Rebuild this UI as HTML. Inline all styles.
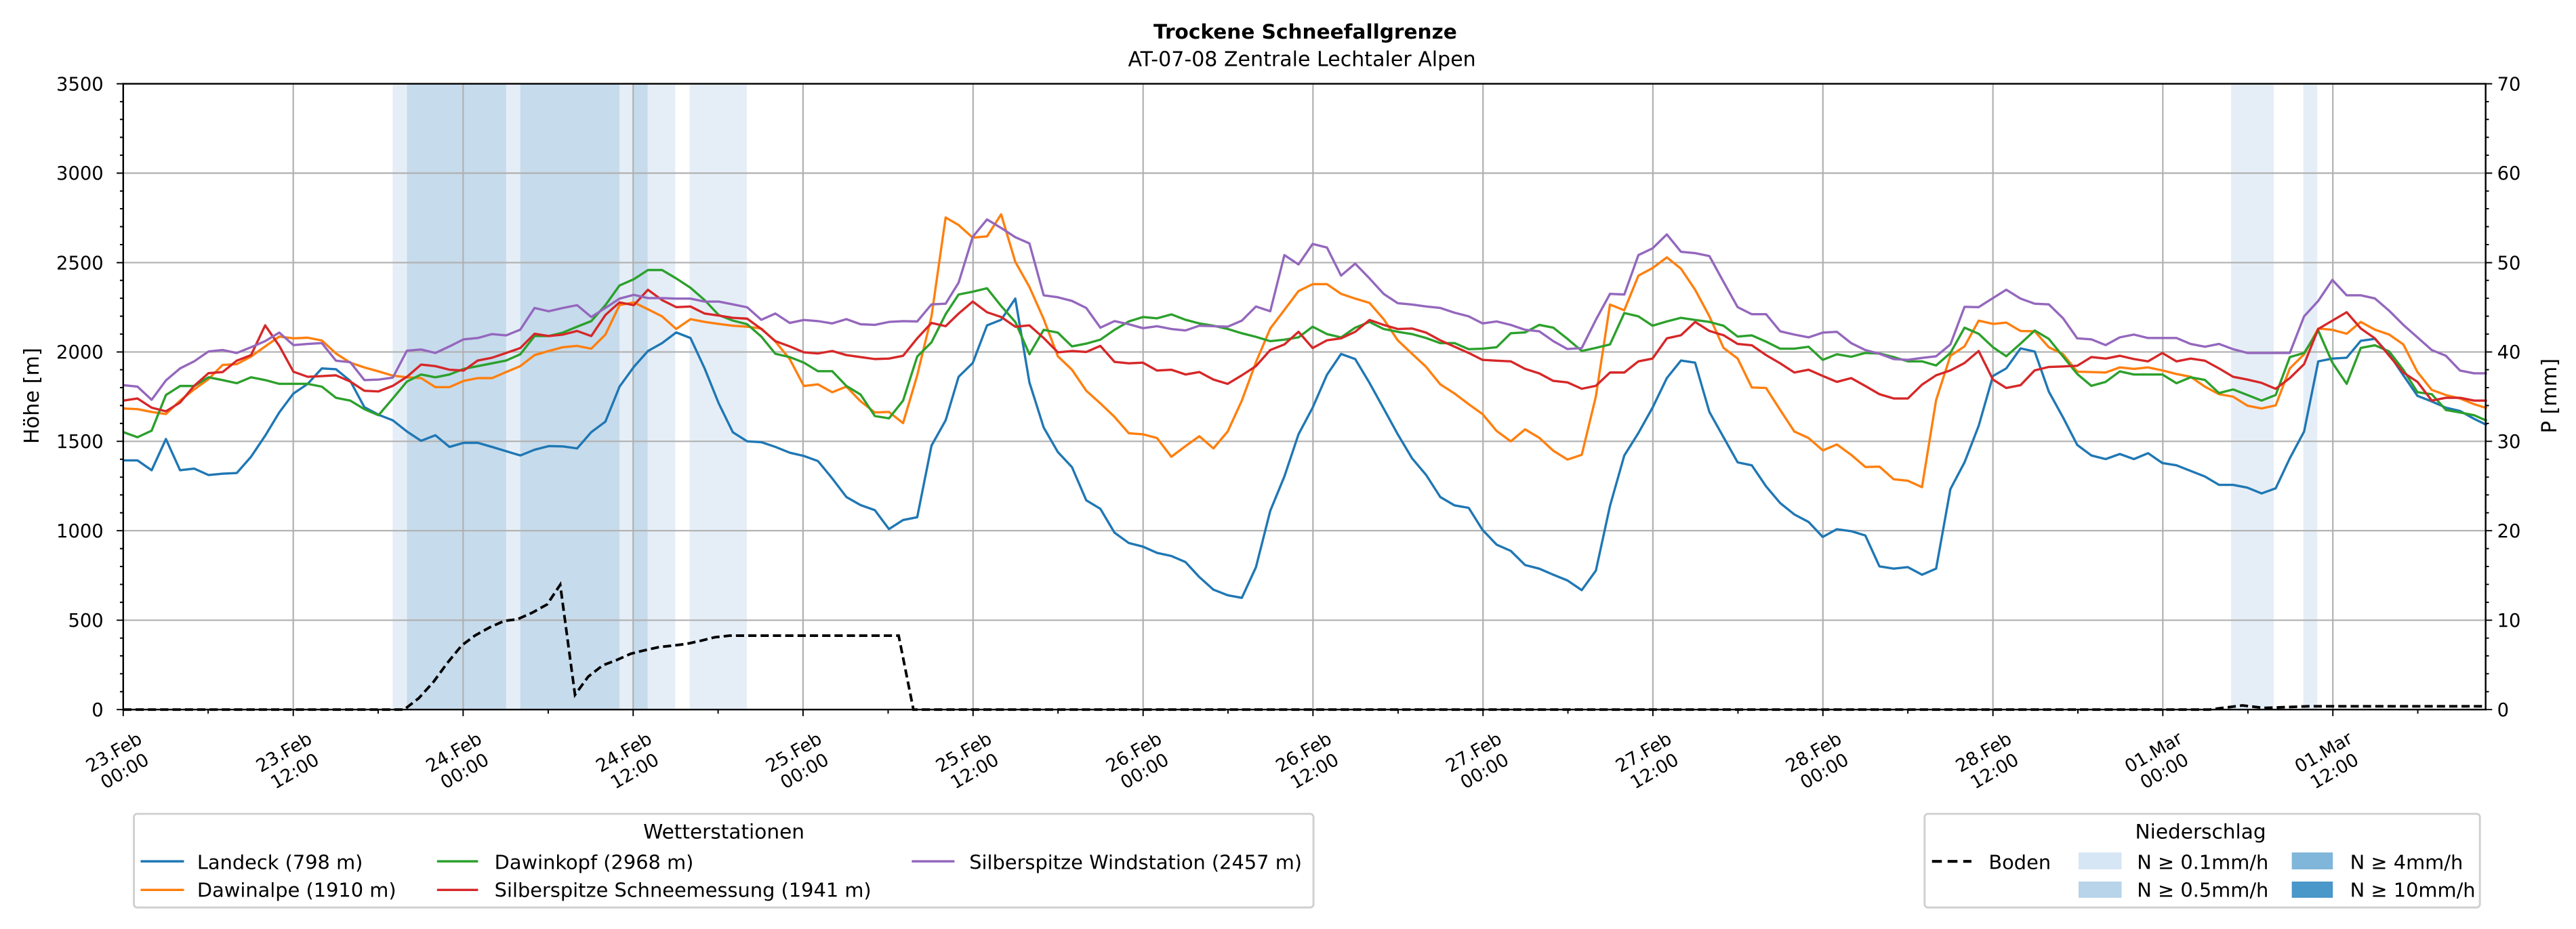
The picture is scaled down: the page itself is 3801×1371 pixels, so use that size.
<!DOCTYPE html>
<html><head><meta charset="utf-8"><style>html,body{margin:0;padding:0;background:#fff}svg{display:block}</style></head>
<body>
<svg id="s" width="3801" height="1371" viewBox="0 0 1568 565.6" preserveAspectRatio="none" xmlns="http://www.w3.org/2000/svg" font-family="DejaVu Sans, Liberation Sans, sans-serif">
<rect width="1568" height="566" fill="#fff"/>
<text x="794.5" y="23.6" font-size="12.2" font-weight="bold" text-anchor="middle">Trockene Schneefallgrenze</text>
<text x="792.5" y="40.3" font-size="12.4" text-anchor="middle">AT-07-08 Zentrale Lechtaler Alpen</text>
<g>
<rect x="239" y="51" width="172" height="381" fill="#e5eef7"/>
<rect x="247.7" y="51" width="60.4" height="381" fill="#c6dbec"/>
<rect x="316.7" y="51" width="60.4" height="381" fill="#c6dbec"/>
<rect x="385.8" y="51" width="8.4" height="381" fill="#c6dbec"/>
<rect x="419.8" y="51" width="34.8" height="381" fill="#e5eef7"/>
<rect x="1358" y="51" width="26" height="381" fill="#e5eef7"/>
<rect x="1402" y="51" width="8.5" height="381" fill="#e5eef7"/>
</g>
<g stroke="#b0b0b0" stroke-width="0.9">
<line x1="75" x2="1513" y1="377.6" y2="377.6"/><line x1="75" x2="1513" y1="323.1" y2="323.1"/><line x1="75" x2="1513" y1="268.7" y2="268.7"/><line x1="75" x2="1513" y1="214.3" y2="214.3"/><line x1="75" x2="1513" y1="159.9" y2="159.9"/><line x1="75" x2="1513" y1="105.4" y2="105.4"/>
<line x1="178.5" x2="178.5" y1="51" y2="432"/><line x1="281.9" x2="281.9" y1="51" y2="432"/><line x1="385.4" x2="385.4" y1="51" y2="432"/><line x1="488.8" x2="488.8" y1="51" y2="432"/><line x1="592.3" x2="592.3" y1="51" y2="432"/><line x1="695.8" x2="695.8" y1="51" y2="432"/><line x1="799.2" x2="799.2" y1="51" y2="432"/><line x1="902.7" x2="902.7" y1="51" y2="432"/><line x1="1006.1" x2="1006.1" y1="51" y2="432"/><line x1="1109.6" x2="1109.6" y1="51" y2="432"/><line x1="1213.1" x2="1213.1" y1="51" y2="432"/><line x1="1316.5" x2="1316.5" y1="51" y2="432"/><line x1="1420" x2="1420" y1="51" y2="432"/>
</g>
<g id="series" fill="none" stroke-width="1.4" stroke-linejoin="round"></g>
<polyline fill="none" stroke="#000" stroke-width="1.6" stroke-dasharray="5,2.5" points="75,432 246,432 255,425 264,415 272,404 281,393 289,387 298,382 307,378 315,377 324,373 333,368 341,356 350,423 358,412 367,405 375,402 384,398 392,396 401,394 410,393 418,392 427,390 435,388 444,387 453,387 547,387 556,432 1345,432 1353,431 1365,429.5 1378,431 1392,430.5 1405,430 1513,430"/>
<rect x="75" y="51" width="1438" height="381" fill="none" stroke="#000" stroke-width="1"/>
<g stroke="#000" stroke-width="0.8">
<path d="M75,432v4M178.5,432v4M281.9,432v4M385.4,432v4M488.8,432v4M592.3,432v4M695.8,432v4M799.2,432v4M902.7,432v4M1006.1,432v4M1109.6,432v4M1213.1,432v4M1316.5,432v4M1420,432v4"/>
<path d="M126.7,432v2.5M230.2,432v2.5M333.7,432v2.5M437.1,432v2.5M540.6,432v2.5M644,432v2.5M747.5,432v2.5M851,432v2.5M954.4,432v2.5M1057.9,432v2.5M1161.3,432v2.5M1264.8,432v2.5M1368.3,432v2.5M1471.7,432v2.5"/>
<path d="M75,432h-4M75,377.6h-4M75,323.1h-4M75,268.7h-4M75,214.3h-4M75,159.9h-4M75,105.4h-4M75,51h-4M1513,432h4M1513,377.6h4M1513,323.1h4M1513,268.7h4M1513,214.3h4M1513,159.9h4M1513,105.4h4M1513,51h4"/>
<path d="M75,421.1h-2M75,410.2h-2M75,399.3h-2M75,388.5h-2M75,366.7h-2M75,355.8h-2M75,344.9h-2M75,334h-2M75,312.2h-2M75,301.3h-2M75,290.5h-2M75,279.6h-2M75,257.8h-2M75,246.9h-2M75,236h-2M75,225.1h-2M75,203.4h-2M75,192.5h-2M75,181.6h-2M75,170.7h-2M75,148.9h-2M75,138h-2M75,127.1h-2M75,116.3h-2M75,94.5h-2M75,83.6h-2M75,72.7h-2M75,61.9h-2M1513,421.1h2M1513,410.2h2M1513,399.3h2M1513,388.5h2M1513,366.7h2M1513,355.8h2M1513,344.9h2M1513,334h2M1513,312.2h2M1513,301.3h2M1513,290.5h2M1513,279.6h2M1513,257.8h2M1513,246.9h2M1513,236h2M1513,225.1h2M1513,203.4h2M1513,192.5h2M1513,181.6h2M1513,170.7h2M1513,148.9h2M1513,138h2M1513,127.1h2M1513,116.3h2M1513,94.5h2M1513,83.6h2M1513,72.7h2M1513,61.9h2"/>
</g>
<g font-size="11.3" text-anchor="end">
<text x="63" y="436">0</text><text x="63" y="381.6">500</text><text x="63" y="327.1">1000</text><text x="63" y="272.7">1500</text><text x="63" y="218.3">2000</text><text x="63" y="163.9">2500</text><text x="63" y="109.4">3000</text><text x="63" y="55">3500</text>
</g>
<g font-size="11.3" text-anchor="start">
<text x="1520" y="436">0</text><text x="1520" y="381.6">10</text><text x="1520" y="327.1">20</text><text x="1520" y="272.7">30</text><text x="1520" y="218.3">40</text><text x="1520" y="163.9">50</text><text x="1520" y="109.4">60</text><text x="1520" y="55">70</text>
</g>
<text transform="translate(23.5,241) rotate(-90)" font-size="12.5" text-anchor="middle">Höhe [m]</text>
<text transform="translate(1556,241) rotate(-90)" font-size="12.5" text-anchor="middle">P [mm]</text>
<g font-size="11" text-anchor="middle">
<g transform="translate(72.5,463.5) rotate(-30)"><text y="-2.6">23.Feb</text><text y="10.6">00:00</text></g>
<g transform="translate(176,463.5) rotate(-30)"><text y="-2.6">23.Feb</text><text y="10.6">12:00</text></g>
<g transform="translate(279.4,463.5) rotate(-30)"><text y="-2.6">24.Feb</text><text y="10.6">00:00</text></g>
<g transform="translate(382.9,463.5) rotate(-30)"><text y="-2.6">24.Feb</text><text y="10.6">12:00</text></g>
<g transform="translate(486.3,463.5) rotate(-30)"><text y="-2.6">25.Feb</text><text y="10.6">00:00</text></g>
<g transform="translate(589.8,463.5) rotate(-30)"><text y="-2.6">25.Feb</text><text y="10.6">12:00</text></g>
<g transform="translate(693.3,463.5) rotate(-30)"><text y="-2.6">26.Feb</text><text y="10.6">00:00</text></g>
<g transform="translate(796.7,463.5) rotate(-30)"><text y="-2.6">26.Feb</text><text y="10.6">12:00</text></g>
<g transform="translate(900.2,463.5) rotate(-30)"><text y="-2.6">27.Feb</text><text y="10.6">00:00</text></g>
<g transform="translate(1003.6,463.5) rotate(-30)"><text y="-2.6">27.Feb</text><text y="10.6">12:00</text></g>
<g transform="translate(1107.1,463.5) rotate(-30)"><text y="-2.6">28.Feb</text><text y="10.6">00:00</text></g>
<g transform="translate(1210.6,463.5) rotate(-30)"><text y="-2.6">28.Feb</text><text y="10.6">12:00</text></g>
<g transform="translate(1314,463.5) rotate(-30)"><text y="-2.6">01.Mar</text><text y="10.6">00:00</text></g>
<g transform="translate(1417.5,463.5) rotate(-30)"><text y="-2.6">01.Mar</text><text y="10.6">12:00</text></g>
</g>
<rect x="81.5" y="495.5" width="718" height="57" rx="2" fill="#fff" stroke="#d0d0d0" stroke-width="1.2"/>
<text x="440.6" y="510.6" font-size="12.2" text-anchor="middle">Wetterstationen</text>
<g font-size="11.9">
<line x1="85.6" x2="112" y1="524.4" y2="524.4" stroke="#1f77b4" stroke-width="1.4"/><text x="120" y="529">Landeck (798 m)</text>
<line x1="85.6" x2="112" y1="541.8" y2="541.8" stroke="#ff7f0e" stroke-width="1.4"/><text x="120" y="546">Dawinalpe (1910 m)</text>
<line x1="266" x2="291" y1="524.4" y2="524.4" stroke="#2ca02c" stroke-width="1.4"/><text x="301" y="529">Dawinkopf (2968 m)</text>
<line x1="266" x2="291" y1="541.8" y2="541.8" stroke="#d62728" stroke-width="1.4"/><text x="301" y="546">Silberspitze Schneemessung (1941 m)</text>
<line x1="555" x2="581" y1="524.4" y2="524.4" stroke="#9467bd" stroke-width="1.4"/><text x="590" y="529">Silberspitze Windstation (2457 m)</text>
</g>
<rect x="1171.5" y="495.5" width="338" height="57" rx="2" fill="#fff" stroke="#d0d0d0" stroke-width="1.2"/>
<text x="1339.5" y="510.6" font-size="12.2" text-anchor="middle">Niederschlag</text>
<g font-size="11.9">
<line x1="1176" x2="1200" y1="524.4" y2="524.4" stroke="#000" stroke-width="1.7" stroke-dasharray="6,3.5"/><text x="1210.5" y="529">Boden</text>
<rect x="1265.2" y="519" width="26.2" height="10.3" fill="#d6e6f4"/><text x="1300.8" y="529">N ≥ 0.1mm/h</text>
<rect x="1265.2" y="536.7" width="26.2" height="9.9" fill="#b7d4ea"/><text x="1300.8" y="546">N ≥ 0.5mm/h</text>
<rect x="1395" y="519" width="25" height="10.3" fill="#80b6d9"/><text x="1430.5" y="529">N ≥ 4mm/h</text>
<rect x="1395" y="536.7" width="25" height="9.9" fill="#4a97c9"/><text x="1430.5" y="546">N ≥ 10mm/h</text>
</g>
</svg>
<script>
(function(){
var segs=[
{a:75.08,x:[0,41,82,123,164,205,246,287,328,369,410,451,492,533,574,615,656,697,738,779,820,861,902,943,984,1025,1066,1107,1148,1189,1230,1271,1312,1353,1394,1435,1476,1517],
b:[1033,1033,1068,957,1068,1062,1085,1080,1078,1020,945,862,795,760,705,708,750,843,870,890,930,963,943,985,970,970,985,1000,1015,995,982,983,990,932,895,770,700,643],
o:[848,850,860,868,820,780,743,693,690,663,627,592,598,596,606,652,685,702,716,731,737,740,772,772,750,740,740,718,697,658,643,630,625,635,585,480,470,495],
g:[932,950,927,800,768,768,737,747,758,737,747,760,760,760,770,810,820,850,872,812,752,727,737,727,707,697,687,677,655,590,590,578,557,537,480,410,388,355],
r:[820,812,845,858,827,767,722,718,678,658,552,625,717,735,733,730,752,785,787,767,735,692,697,710,713,677,667,650,633,582,590,585,572,590,515,470,480,425],
p:[765,770,817,748,705,680,645,640,650,630,608,578,622,618,615,678,683,747,745,738,642,638,650,627,602,597,583,588,567,490,502,490,480,522,490,457,443,455]},
{a:363.0,x:[190,231,272,313,354,395,436,477,518,559,600,641,682,723,764,805,846,887,928,969,1010],
b:[615,577,597,705,830,933,965,968,985,1005,1017,1035,1097,1163,1192,1210,1277,1245,1235,980,890],
o:[520,565,530,540,547,553,557,563,610,672,768,762,790,770,822,862,860,900,730,520,168],
g:[355,385,418,462,515,535,548,592,653,665,685,715,715,768,798,875,883,820,663,612,512],
r:[462,487,485,510,517,525,528,565,608,627,648,652,643,658,665,672,670,660,598,543,555],
p:[455,457,457,467,467,477,488,532,510,543,533,537,545,530,548,550,540,537,538,477,475]},
{a:577.6,x:[28,69,110,151,192,233,274,315,356,397,438,479,520,561,602,643,684,724,765,806,847,888,929,970,1011,1052,1093,1134,1175,1216,1257,1298,1339,1380,1421,1462,1503,1543],
b:[735,686,552,532,457,755,916,1003,1057,1175,1205,1290,1327,1340,1362,1373,1395,1448,1493,1513,1522,1413,1212,1090,940,845,728,654,672,757,848,940,1025,1085,1163,1193,1202,1280],
o:[195,240,235,157,326,415,530,662,710,785,830,878,936,940,953,1020,982,947,990,930,820,683,563,497,430,405,405,440,457,472,530,605,653,700,762,795,833,868],
g:[442,432,420,483,540,655,568,578,627,617,603,568,538,522,527,513,532,545,553,565,580,593,608,603,595,557,583,595,560,540,565,575,583,597,615,615,637,635],
r:[510,467,505,522,557,552,597,648,643,647,625,682,687,685,713,710,727,718,745,760,730,697,640,620,575,633,605,598,575,533,550,565,563,578,605,628,650,675],
p:[400,237,175,205,238,260,445,452,465,490,560,537,548,562,555,565,570,553,555,557,535,485,502,302,335,262,275,375,332,385,440,473,478,485,490,507,520,545]},
{a:887.0,x:[114,155,196,237,278,319,360,401,442,483,524,565,606,647,688,729,770,811,852,893,934,975,1016,1057,1098,1139,1180,1221,1262,1303,1344,1385,1426,1467,1508,1549],
b:[1333,1355,1405,1418,1440,1460,1495,1425,1195,1015,935,845,740,677,685,860,950,1040,1050,1125,1185,1225,1252,1305,1278,1285,1300,1410,1418,1413,1440,1418,1135,1040,910,732],
o:[928,965,922,952,998,1030,1013,805,478,498,375,348,310,350,425,520,632,670,773,775,853,930,953,997,976,1013,1056,1055,1100,1105,1128,818,660,627,535,547],
g:[630,580,577,550,560,600,643,632,620,508,520,553,538,525,533,540,553,592,588,610,635,635,628,675,655,664,650,652,665,680,680,695,650,560,582,630],
r:[678,680,707,723,750,755,778,767,720,720,680,670,598,587,540,572,587,618,623,658,687,720,710,732,753,740,768,797,812,812,763,730,712,686,643,745],
p:[538,550,568,573,608,636,633,532,440,442,302,278,228,290,295,305,397,487,512,512,573,585,595,578,575,615,640,653,672,675,668,662,620,486,487,455]},
{a:1196.4,x:[118,159,200,241,282,323,364,405,446,487,528,569,610,651,692,733,774,815,856,897,938,979,1020,1061,1102,1143,1184,1225,1266,1307,1348,1389,1430,1471,1508],
b:[705,634,645,788,880,978,1015,1028,1010,1028,1007,1042,1050,1070,1090,1120,1120,1130,1150,1132,1025,930,680,670,667,607,600,655,730,803,823,845,857,885,907],
o:[542,572,573,630,655,717,718,720,702,707,702,712,725,735,770,797,806,838,848,837,705,655,563,568,582,540,567,585,620,718,782,800,812,833,847],
g:[662,617,570,600,663,725,767,753,716,727,727,727,758,737,746,793,780,800,820,800,665,650,570,685,760,632,623,645,710,790,797,853,862,872,892],
r:[775,765,712,700,698,696,665,670,660,672,680,650,680,670,678,705,735,745,757,778,740,690,565,535,505,563,598,660,720,753,820,810,810,820,820],
p:[425,457,475,477,527,598,602,622,595,585,597,597,597,618,628,618,637,650,650,650,650,520,465,390,445,445,456,500,550,595,640,660,713,723,723]}
];
var cols={b:"#1f77b4",o:"#ff7f0e",g:"#2ca02c",r:"#d62728",p:"#9467bd"};
var g=document.getElementById("series"),ns="http://www.w3.org/2000/svg";
["b","o","g","r","p"].forEach(function(k){
var pts=[];
segs.forEach(function(s){s.x.forEach(function(xz,i){pts.push((s.a+0.2105*xz).toFixed(1)+","+(103.7+0.171*s[k][i]).toFixed(1));});});
var pl=document.createElementNS(ns,"polyline");pl.setAttribute("points",pts.join(" "));pl.setAttribute("stroke",cols[k]);g.appendChild(pl);
});
})();
</script>
</body></html>
